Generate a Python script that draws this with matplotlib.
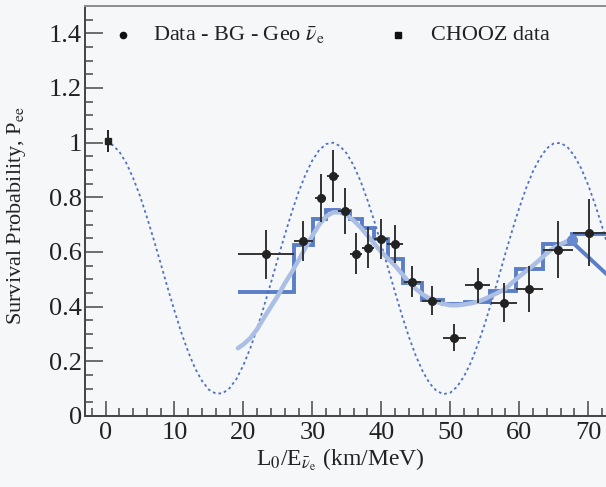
import numpy as np
import matplotlib.pyplot as plt
from matplotlib.ticker import MultipleLocator

plt.rcParams['font.family'] = ['Liberation Serif', 'DejaVu Serif']
plt.rcParams['mathtext.fontset'] = 'stix'

# =========================
# Data
# =========================

# KamLAND points (Data - BG - Geo)
data_x = [23.3, 28.7, 31.2, 33.0, 34.7, 36.3, 38.1, 40.0, 42.0, 44.5,
          47.3, 50.6, 54.0, 57.8, 61.5, 65.6, 70.2]
data_y = [0.592, 0.639, 0.798, 0.878, 0.749, 0.594, 0.616, 0.648, 0.628, 0.492,
          0.422, 0.287, 0.478, 0.415, 0.465, 0.609, 0.671]
data_xerr = [4.05, 1.35, 0.8, 0.85, 0.95, 0.9, 0.9, 1.0, 1.1, 1.2,
             1.4, 1.65, 1.8, 1.9, 2.0, 2.2, 2.4]
data_yerr = [0.09, 0.073, 0.087, 0.095, 0.085, 0.074, 0.075, 0.072, 0.07, 0.057,
             0.053, 0.05, 0.065, 0.072, 0.083, 0.105, 0.122]

# CHOOZ point
chooz_x = [0.3]
chooz_y = [1.006]
chooz_yerr = [0.04]

# expected (binned) histogram
hist_edges = [19.2, 27.4, 30.1, 32.0, 33.9, 35.5, 37.2, 39.0, 41.0, 43.2,
              45.9, 49.0, 52.2, 55.8, 59.6, 63.5, 67.7, 72.6]
hist_levels = [0.452, 0.627, 0.72, 0.755, 0.749, 0.72, 0.689, 0.649, 0.576,
               0.485, 0.425, 0.409, 0.418, 0.458, 0.536, 0.631, 0.667]

# expected (unbinned) light curve
smooth_x = [19.2, 20, 21, 22, 23, 24, 25, 26, 27, 28, 29, 30, 31, 32, 33, 34,
            35, 36, 37, 38, 39, 40, 41, 42, 43, 44, 45, 46, 47, 48, 49, 50,
            51, 52, 53, 54, 55, 56, 57, 58, 59, 60, 61, 62, 63, 64, 65, 66,
            67, 67.6]
smooth_y = [0.248, 0.262, 0.285, 0.318, 0.36, 0.40, 0.44, 0.485, 0.525, 0.57,
            0.615, 0.66, 0.70, 0.73, 0.745, 0.745, 0.735, 0.715, 0.69, 0.66,
            0.63, 0.60, 0.575, 0.55, 0.52, 0.49, 0.465, 0.445, 0.43, 0.418,
            0.41, 0.405, 0.405, 0.408, 0.412, 0.418, 0.428, 0.44, 0.452, 0.465,
            0.488, 0.51, 0.53, 0.55, 0.572, 0.595, 0.615, 0.628, 0.64, 0.645]

# falling line at the right edge
tail_x = [67.7, 72.6]
tail_y = [0.636, 0.521]

# dotted oscillation curve
osc_x = list(range(0, 74))
osc_y = [1.000, 0.992, 0.967, 0.926, 0.871, 0.805, 0.728, 0.645, 0.558, 0.470,
         0.385, 0.305, 0.234, 0.174, 0.128, 0.096, 0.082, 0.083, 0.102, 0.136,
         0.186, 0.248, 0.321, 0.402, 0.488, 0.576, 0.662, 0.744, 0.819, 0.883,
         0.935, 0.973, 0.995, 1.000, 0.988, 0.960, 0.916, 0.859, 0.790, 0.712,
         0.627, 0.540, 0.453, 0.368, 0.290, 0.221, 0.164, 0.120, 0.092, 0.080,
         0.085, 0.107, 0.145, 0.196, 0.261, 0.336, 0.418, 0.505, 0.594, 0.679,
         0.760, 0.833, 0.895, 0.943, 0.979, 0.997, 0.999, 0.984, 0.952, 0.906,
         0.846, 0.775, 0.696, 0.610]

# =========================
# Plot
# =========================

bg = '#f5f7f9'
fig = plt.figure(figsize=(6.06, 4.87), dpi=100, facecolor=bg)
ax = fig.add_axes([0.140, 0.1458, 0.860, 0.8419], facecolor=bg)

ax.plot(osc_x, osc_y, color='#4f70c4', lw=1.3, ls=(0, (1.5, 1.7)))

ax.plot(smooth_x, smooth_y, color='#abbee3', lw=3.2, solid_capstyle='round')
ax.stairs(hist_levels, hist_edges, color='#5b7ec6', lw=2.8, baseline=None)
ax.plot(tail_x, tail_y, color='#5b7ec6', lw=2.8)
ax.plot([smooth_x[-1]], [smooth_y[-1]], 'o', color='#6689cf', ms=7)

ax.errorbar(chooz_x, chooz_y, yerr=chooz_yerr, fmt='s', color='#222222',
            ms=5, elinewidth=1.4, capsize=0)
ax.errorbar(data_x, data_y, xerr=data_xerr, yerr=data_yerr, fmt='o',
            color='#222222', ecolor='#333333', ms=5.5, elinewidth=1.4,
            capsize=0, zorder=5)

# legend drawn by hand
ax.plot([0.073], [0.929], 'o', color='#111111', ms=4.5, transform=ax.transAxes)
ax.text(0.131, 0.929, r'Data - BG - Geo $\bar{\nu}_{\mathrm{e}}$', transform=ax.transAxes,
        fontsize=16, va='center', ha='left', color='#222222')
ax.plot([0.601], [0.929], 's', color='#111111', ms=4, transform=ax.transAxes)
ax.text(0.664, 0.929, 'CHOOZ data', transform=ax.transAxes,
        fontsize=16, va='center', ha='left', color='#222222')

ax.set_xlim(-3, 72.6)
ax.set_ylim(0, 1.5)

ax.xaxis.set_major_locator(MultipleLocator(10))
ax.xaxis.set_minor_locator(MultipleLocator(2))
ax.yaxis.set_minor_locator(MultipleLocator(0.05))
ax.set_yticks([0, 0.2, 0.4, 0.6, 0.8, 1.0, 1.2, 1.4])
ax.set_yticklabels(['0', '0.2', '0.4', '0.6', '0.8', '1', '1.2', '1.4'])

ax.tick_params(which='both', direction='in', colors='#555555',
               labelcolor='#222222', labelsize=19, width=1.2)
ax.tick_params(which='major', length=11, pad=4)
ax.tick_params(which='minor', length=5.5)
ax.tick_params(axis='y', which='major', length=13, pad=2)

for side in ['left', 'bottom']:
    ax.spines[side].set_color('#444444')
    ax.spines[side].set_linewidth(1.4)
ax.spines['top'].set_color('#8a8f96')
ax.spines['top'].set_linewidth(1.4)
ax.spines['right'].set_visible(False)

ax.set_xlabel(r'L$_{0}$/E$_{\bar{\nu}_{\mathrm{e}}}$ (km/MeV)', fontsize=17, color='#222222')
ax.xaxis.set_label_coords(0.49, -0.075)
ax.set_ylabel(r'Survival Probability, P$_{\mathrm{ee}}$', fontsize=16, color='#222222')
ax.yaxis.set_label_coords(-0.11, 0.49)

fig.savefig('out.png', dpi=100, facecolor=bg)
